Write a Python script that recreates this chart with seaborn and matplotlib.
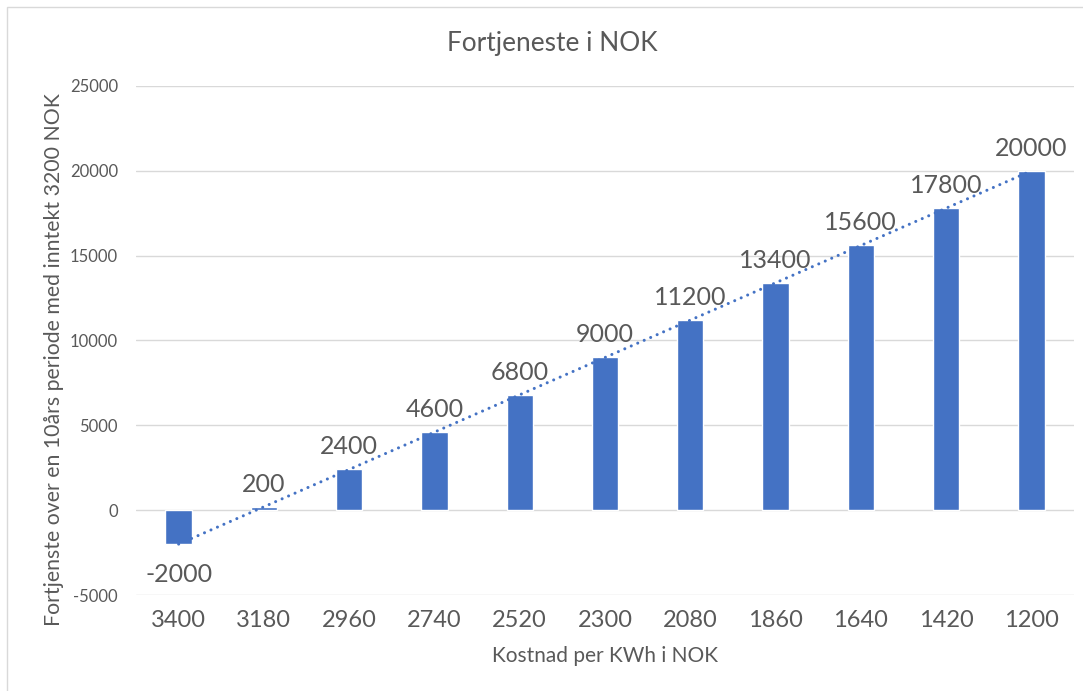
import numpy as np
import pandas as pd
import seaborn as sns
import matplotlib
matplotlib.use("Agg")
import matplotlib.pyplot as plt
from matplotlib.patches import Rectangle

# Cost per kWh (NOK) and resulting profit over a 10-year period
kostnad = ["3400", "3180", "2960", "2740", "2520", "2300", "2080", "1860", "1640", "1420", "1200"]
fortjeneste = [-2000, 200, 2400, 4600, 6800, 9000, 11200, 13400, 15600, 17800, 20000]
y_ticks = [-5000, 0, 5000, 10000, 15000, 20000, 25000]

title = "Fortjeneste i NOK"
x_label = "Kostnad per KWh i NOK"
y_label = "Fortjenste over en 10års periode med inntekt 3200 NOK"

BAR = "#4472C4"
TEXT = "#595959"
GRID = "#D9D9D9"

sns.set_theme(style="white")
plt.rcParams["font.family"] = ["Lato", "DejaVu Sans"]

W, H = 1083, 691
fig = plt.figure(figsize=(W / 100, H / 100), dpi=100)
fig.patch.set_facecolor("white")

# chart-area frame
fig.patches.append(Rectangle((7 / W, -0.05), 1.2, 1 - 7 / H + 0.05,
                             transform=fig.transFigure, fill=False,
                             edgecolor=GRID, linewidth=1.0))

left, right, top, bottom = 136, 1074, 86, 595
ax = fig.add_axes([left / W, 1 - bottom / H, (right - left) / W, (bottom - top) / H])

df = pd.DataFrame({"kostnad": kostnad, "fortjeneste": fortjeneste})
sns.barplot(data=df, x="kostnad", y="fortjeneste", order=kostnad, color=BAR,
            saturation=1, width=0.31, ax=ax, zorder=2)

ax.set_xlim(-0.5, len(kostnad) - 0.5)
ax.set_ylim(y_ticks[0], y_ticks[-1])
ax.set_yticks(y_ticks)
ax.set_yticklabels([str(v) for v in y_ticks])
ax.grid(axis="y", color=GRID, linewidth=1.0, zorder=0)
ax.set_axisbelow(True)
for s in ax.spines.values():
    s.set_visible(False)
ax.tick_params(axis="y", length=0, pad=13, labelsize=12, labelcolor=TEXT)
ax.tick_params(axis="x", length=0, pad=11, labelsize=17, labelcolor=TEXT)

# linear trend line
xs = np.arange(len(fortjeneste))
k, m = np.polyfit(xs, fortjeneste, 1)
ax.plot([xs[0], xs[-1]], [k * xs[0] + m, k * xs[-1] + m], color=BAR,
        linewidth=2.2, linestyle=(0, (0.01, 2.3)), dash_capstyle="round", zorder=3)

# value labels
for i, v in enumerate(fortjeneste):
    if v >= 0:
        ax.annotate(str(v), (i, v), xytext=(0, 10.8), textcoords="offset points",
                    ha="center", va="baseline", fontsize=18, color=TEXT, zorder=4)
    else:
        ax.annotate(str(v), (i, v), xytext=(0, -27.4), textcoords="offset points",
                    ha="center", va="baseline", fontsize=18, color=TEXT, zorder=4)

ax.set_xlabel(x_label, fontsize=15, color=TEXT)
ax.set_ylabel(y_label, fontsize=15.3, color=TEXT)
ax.xaxis.set_label_coords(0.5, (bottom - 656) / (bottom - top))
ax.yaxis.set_label_coords((54 - left) / (right - left), (bottom - 360) / (bottom - top))
ax.xaxis.label.set_va("center")
ax.yaxis.label.set_va("center")

fig.text(552 / W, 1 - 43 / H, title, ha="center", va="center", fontsize=18.9, color=TEXT)

fig.savefig("out.png", dpi=100, facecolor="white")
